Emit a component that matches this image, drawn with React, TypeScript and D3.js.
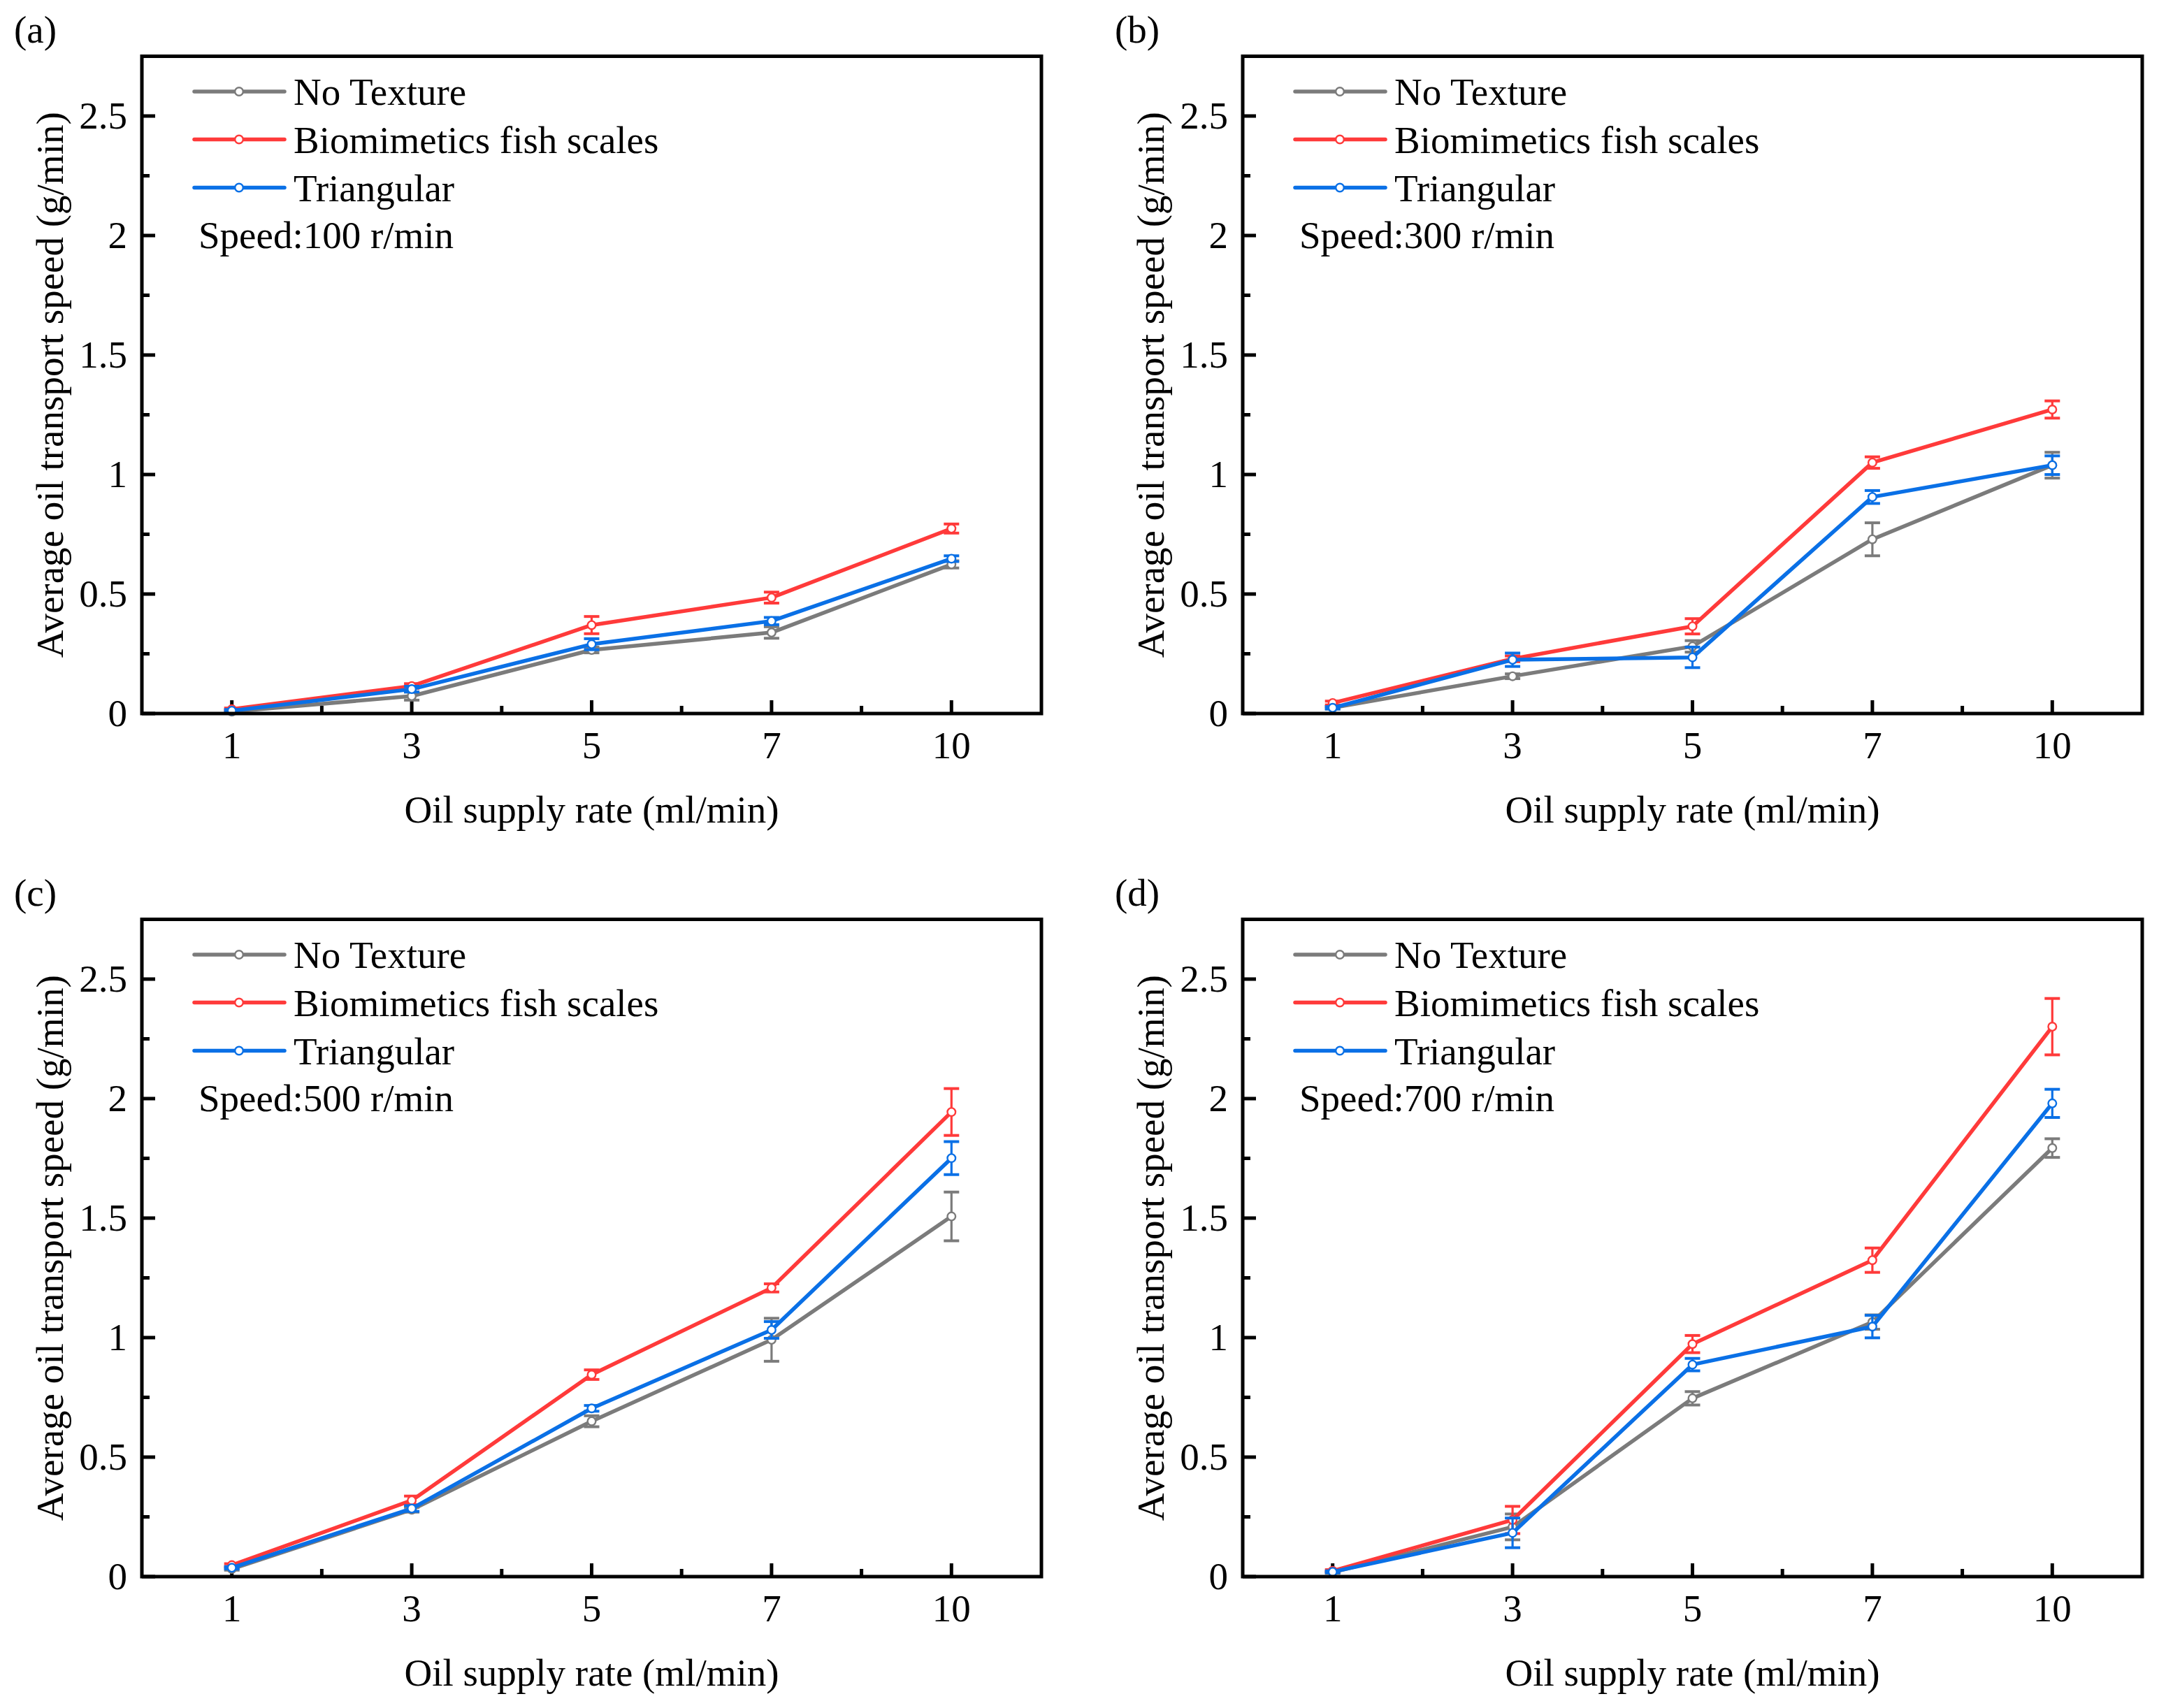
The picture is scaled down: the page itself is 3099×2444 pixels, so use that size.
import { useEffect, useRef } from 'react';
import * as d3 from 'd3';

// x categories (oil supply rate, ml/min)
const xLabels = ['1', '3', '5', '7', '10'];
const seriesNames = ['No Texture', 'Biomimetics fish scales', 'Triangular'];
const seriesColors = ['#7b7b7b', '#ff3a3a', '#0a70e6'];
const speeds = ['100', '300', '500', '700'];
const panelTags = ['(a)', '(b)', '(c)', '(d)'];
const yTicks = [0, 0.5, 1, 1.5, 2, 2.5];
const yTickLabels = ['0', '0.5', '1', '1.5', '2', '2.5'];

// (a) 100 r/min
const aNoTex = [0.008, 0.073, 0.266, 0.339, 0.624];
const aNoTexErr = [0.005, 0.017, 0.012, 0.024, 0.015];
const aFish = [0.018, 0.115, 0.37, 0.485, 0.774];
const aFishErr = [0.005, 0.01, 0.036, 0.023, 0.019];
const aTri = [0.012, 0.102, 0.29, 0.387, 0.648];
const aTriErr = [0.005, 0.012, 0.023, 0.015, 0.012];

// (b) 300 r/min
const bNoTex = [0.024, 0.156, 0.281, 0.729, 1.039];
const bNoTexErr = [0.005, 0.01, 0.024, 0.069, 0.054];
const bFish = [0.044, 0.229, 0.365, 1.05, 1.272];
const bFishErr = [0.008, 0.012, 0.032, 0.024, 0.036];
const bTri = [0.024, 0.225, 0.235, 0.906, 1.039];
const bTriErr = [0.005, 0.028, 0.043, 0.027, 0.039];

// (c) 500 r/min
const cNoTex = [0.032, 0.28, 0.65, 0.991, 1.507];
const cNoTexErr = [0.005, 0.01, 0.023, 0.09, 0.102];
const cFish = [0.048, 0.319, 0.845, 1.208, 1.944];
const cFishErr = [0.006, 0.018, 0.02, 0.017, 0.098];
const cTri = [0.037, 0.285, 0.704, 1.032, 1.751];
const cTriErr = [0.005, 0.012, 0.012, 0.035, 0.069];

// (d) 700 r/min
const dNoTex = [0.018, 0.208, 0.746, 1.065, 1.793];
const dNoTexErr = [0.004, 0.054, 0.028, 0.03, 0.039];
const dFish = [0.024, 0.237, 0.973, 1.324, 2.301];
const dFishErr = [0.005, 0.057, 0.036, 0.051, 0.118];
const dTri = [0.02, 0.183, 0.887, 1.046, 1.98];
const dTriErr = [0.004, 0.062, 0.026, 0.047, 0.059];

const panelMeans = [
  [aNoTex, aFish, aTri],
  [bNoTex, bFish, bTri],
  [cNoTex, cFish, cTri],
  [dNoTex, dFish, dTri],
];
const panelErrs = [
  [aNoTexErr, aFishErr, aTriErr],
  [bNoTexErr, bFishErr, bTriErr],
  [cNoTexErr, cFishErr, cTriErr],
  [dNoTexErr, dFishErr, dTriErr],
];

const W = 3099, H = 2444;
const FS = 55;

export default function App() {
  const svgRef = useRef<SVGSVGElement>(null);

  useEffect(() => {
    if (!svgRef.current) return;
    const svg = d3.select(svgRef.current);
    svg.selectAll('*').remove();
    svg.append('rect').attr('width', W).attr('height', H).attr('fill', '#fff');

    const boxW = 1287, boxH = 940.5;
    const origins = [[203, 80.5], [1778, 80.5], [203, 1315.5], [1778, 1315.5]];

    origins.forEach(([ox, oy], p) => {
      const g = svg.append('g').attr('transform', `translate(${ox},${oy})`);
      const x = d3.scaleLinear().domain([-0.5, xLabels.length - 0.5]).range([0, boxW]);
      const y = d3.scaleLinear().domain([0, 2.75]).range([boxH, 0]);

      // ticks (inward)
      const minorX = d3.range(0.5, xLabels.length - 1, 1);
      g.selectAll('.xmaj').data(xLabels).enter().append('line')
        .attr('x1', (_, i) => x(i)).attr('x2', (_, i) => x(i))
        .attr('y1', boxH).attr('y2', boxH - 19).attr('stroke', '#000').attr('stroke-width', 5);
      g.selectAll('.xmin').data(minorX).enter().append('line')
        .attr('x1', d => x(d)).attr('x2', d => x(d))
        .attr('y1', boxH).attr('y2', boxH - 11).attr('stroke', '#000').attr('stroke-width', 5);
      const minorY = d3.range(0.25, 2.75, 0.5);
      g.selectAll('.ymaj').data(yTicks).enter().append('line')
        .attr('x1', 0).attr('x2', 19).attr('y1', d => y(d)).attr('y2', d => y(d))
        .attr('stroke', '#000').attr('stroke-width', 5);
      g.selectAll('.ymin').data(minorY).enter().append('line')
        .attr('x1', 0).attr('x2', 11).attr('y1', d => y(d)).attr('y2', d => y(d))
        .attr('stroke', '#000').attr('stroke-width', 5);

      // tick labels
      g.selectAll('.xl').data(xLabels).enter().append('text')
        .attr('x', (_, i) => x(i)).attr('y', boxH + 64).attr('text-anchor', 'middle').text(d => d);
      g.selectAll('.yl').data(yTicks).enter().append('text')
        .attr('x', -21).attr('y', d => y(d) + 18).attr('text-anchor', 'end').text((_, i) => yTickLabels[i]);

      // axis titles
      g.append('text').attr('x', boxW / 2).attr('y', boxH + 156).attr('text-anchor', 'middle')
        .text('Oil supply rate (ml/min)');
      g.append('text').attr('transform', `translate(-113,${boxH / 2}) rotate(-90)`)
        .attr('text-anchor', 'middle').text('Average oil transport speed (g/min)');
      g.append('text').attr('x', -183).attr('y', -20).text(panelTags[p]);

      // series: error bars, lines, markers
      const means = panelMeans[p], errs = panelErrs[p];
      const line = d3.line<number>().x((_, i) => x(i)).y(d => y(d));
      means.forEach((vals, s) => {
        const col = seriesColors[s];
        const eb = g.append('g').attr('stroke', col);
        vals.forEach((v, i) => {
          const e = errs[s][i];
          eb.append('line').attr('x1', x(i)).attr('x2', x(i)).attr('y1', y(v - e)).attr('y2', y(v + e)).attr('stroke-width', 3.2);
          [v - e, v + e].forEach(t => eb.append('line').attr('x1', x(i) - 11).attr('x2', x(i) + 11)
            .attr('y1', y(t)).attr('y2', y(t)).attr('stroke-width', 4));
        });
        g.append('path').datum(vals).attr('d', line).attr('fill', 'none')
          .attr('stroke', col).attr('stroke-width', 5.5).attr('stroke-linejoin', 'round');
        g.selectAll(null).data(vals).enter().append('circle')
          .attr('cx', (_, i) => x(i)).attr('cy', d => y(d)).attr('r', 5.8)
          .attr('fill', '#fff').attr('stroke', col).attr('stroke-width', 2.4);
      });

      // legend
      const rows = [50.5, 119, 188];
      seriesNames.forEach((name, s) => {
        const col = seriesColors[s];
        g.append('line').attr('x1', 75).attr('x2', 204).attr('y1', rows[s]).attr('y2', rows[s])
          .attr('stroke', col).attr('stroke-width', 5.5).attr('stroke-linecap', 'round');
        g.append('circle').attr('cx', 139).attr('cy', rows[s]).attr('r', 5.8)
          .attr('fill', '#fff').attr('stroke', col).attr('stroke-width', 2.4);
        g.append('text').attr('x', 217).attr('y', rows[s] + 19).text(name);
      });
      g.append('text').attr('x', 81).attr('y', 274.5).text(`Speed:${speeds[p]} r/min`);

      // frame
      g.append('rect').attr('width', boxW).attr('height', boxH)
        .attr('fill', 'none').attr('stroke', '#000').attr('stroke-width', 5);
    });
  }, []);

  return (
    <>
      <style>{`body{margin:0} svg text{font-family:'Liberation Serif',serif;font-size:${FS}px;fill:#000}`}</style>
      <svg ref={svgRef} width={W} height={H} viewBox={`0 0 ${W} ${H}`} style={{ display: 'block' }} />
    </>
  );
}
